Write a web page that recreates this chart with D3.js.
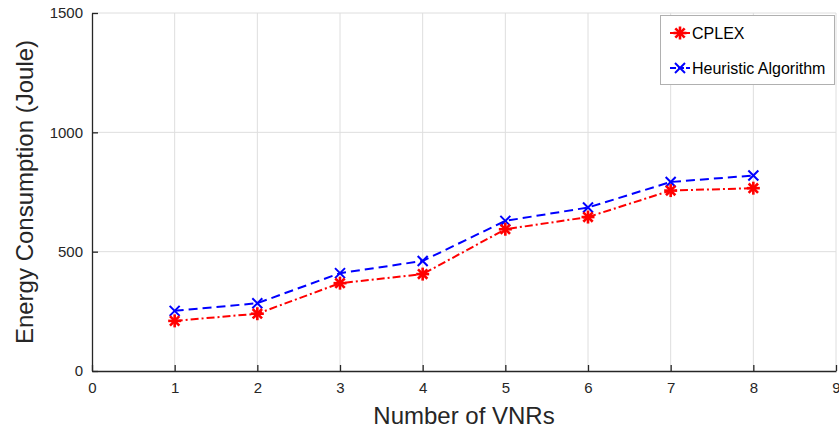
<!DOCTYPE html>
<html>
<head>
<meta charset="utf-8">
<script src="https://cdn.jsdelivr.net/npm/d3@7"></script>
<style>
  body { margin: 0; background: #fff; }
  text { font-family: "Liberation Sans", Arial, sans-serif; }
</style>
</head>
<body>
<div id="chart"></div>
<script>
// data
const vnrs = [1, 2, 3, 4, 5, 6, 7, 8];
const cplex = [210, 240, 368, 406, 594, 645, 756, 766];
const heuristic = [252, 284, 410, 461, 629, 685, 792, 819];
const xTicks = [0, 1, 2, 3, 4, 5, 6, 7, 8, 9];
const yTicks = [0, 500, 1000, 1500];
const seriesNames = ['CPLEX', 'Heuristic Algorithm'];

let width = 839, height = 429;
let margin = {top: 13, left: 92, right: 3, bottom: 58};

let svg = d3.select('#chart')
  .append('svg')
  .attr('width', width)
  .attr('height', height);

let xScale = d3.scaleLinear()
  .domain([0, 9])
  .range([margin.left, width - margin.right]);

let yScale = d3.scaleLinear()
  .domain([0, 1500])
  .range([height - margin.bottom, margin.top]);

// grid
let grid = svg.append('g');
grid.selectAll('.gx').data(xTicks.slice(1)).enter()
  .append('line')
  .attr('x1', d => xScale(d)).attr('x2', d => xScale(d))
  .attr('y1', yScale(0)).attr('y2', yScale(1500))
  .attr('stroke', '#dedede').attr('stroke-width', 1);
grid.selectAll('.gy').data(yTicks.slice(1)).enter()
  .append('line')
  .attr('x1', xScale(0)).attr('x2', xScale(9))
  .attr('y1', d => yScale(d)).attr('y2', d => yScale(d))
  .attr('stroke', '#dedede').attr('stroke-width', 1);

// axes, ticks pointing inward
let xAxis = d3.axisBottom(xScale).tickValues(xTicks).tickFormat(d3.format('d'))
  .tickSizeInner(-6).tickSizeOuter(0).tickPadding(11);
let gx = svg.append('g')
  .attr('transform', 'translate(0,' + yScale(0) + ')')
  .call(xAxis);
let yAxis = d3.axisLeft(yScale).tickValues(yTicks).tickFormat(d3.format('d'))
  .tickSizeInner(-6).tickSizeOuter(0).tickPadding(9);
let gy = svg.append('g')
  .attr('transform', 'translate(' + xScale(0) + ',0)')
  .call(yAxis);
[gx, gy].forEach(g => {
  g.select('.domain').attr('stroke', '#262626').attr('stroke-width', 1.3);
  g.selectAll('.tick line').attr('stroke', '#262626').attr('stroke-width', 1.3);
  g.selectAll('.tick text')
    .attr('fill', '#262626')
    .style('font-size', '15px')
    .style('font-family', '"Liberation Sans", Arial, sans-serif');
});

// axis labels
svg.append('text')
  .attr('x', (xScale(0) + xScale(9)) / 2)
  .attr('y', 424)
  .attr('text-anchor', 'middle')
  .attr('fill', '#262626')
  .style('font-size', '24px')
  .text('Number of VNRs');
svg.append('text')
  .attr('transform', 'translate(33,' + ((yScale(0) + yScale(1500)) / 2) + ') rotate(-90)')
  .attr('text-anchor', 'middle')
  .attr('fill', '#262626')
  .style('font-size', '24px')
  .text('Energy Consumption (Joule)');

// markers
function asterisk(g, x, y, color) {
  let r = 6.5;
  let s = g.append('g').attr('transform', 'translate(' + x + ',' + y + ')')
    .attr('stroke', color).attr('stroke-width', 2.6);
  s.append('line').attr('x1', -r).attr('x2', r).attr('y1', 0).attr('y2', 0);
  s.append('line').attr('x1', 0).attr('x2', 0).attr('y1', -r).attr('y2', r);
  s.append('line').attr('x1', -r * 0.72).attr('x2', r * 0.72).attr('y1', -r * 0.72).attr('y2', r * 0.72);
  s.append('line').attr('x1', -r * 0.72).attr('x2', r * 0.72).attr('y1', r * 0.72).attr('y2', -r * 0.72);
}
function cross(g, x, y, color) {
  let r = 5;
  let s = g.append('g').attr('transform', 'translate(' + x + ',' + y + ')')
    .attr('stroke', color).attr('stroke-width', 2);
  s.append('line').attr('x1', -r).attr('x2', r).attr('y1', -r).attr('y2', r);
  s.append('line').attr('x1', -r).attr('x2', r).attr('y1', r).attr('y2', -r);
}

let line = d3.line()
  .x(d => xScale(d[0]))
  .y(d => yScale(d[1]));

let cplexPts = vnrs.map((v, i) => [v, cplex[i]]);
let heurPts = vnrs.map((v, i) => [v, heuristic[i]]);

svg.append('path')
  .attr('d', line(heurPts))
  .attr('fill', 'none')
  .attr('stroke', '#0000ff')
  .attr('stroke-width', 2)
  .attr('stroke-dasharray', '9,5');
svg.append('path')
  .attr('d', line(cplexPts))
  .attr('fill', 'none')
  .attr('stroke', '#ff0000')
  .attr('stroke-width', 2)
  .attr('stroke-dasharray', '8,3,2,3');

let marks = svg.append('g');
heurPts.forEach(p => cross(marks, xScale(p[0]), yScale(p[1]), '#0000ff'));
cplexPts.forEach(p => asterisk(marks, xScale(p[0]), yScale(p[1]), '#ff0000'));

// legend
let legend = svg.append('g');
legend.append('rect')
  .attr('x', 660.5).attr('y', 15.5)
  .attr('width', 174).attr('height', 69)
  .attr('fill', '#fff')
  .attr('stroke', '#b0b0b0').attr('stroke-width', 1);
let legY = [33, 68];
let legColors = ['#ff0000', '#0000ff'];
seriesNames.forEach((name, i) => {
  legend.append('line')
    .attr('x1', 670).attr('x2', 690)
    .attr('y1', legY[i]).attr('y2', legY[i])
    .attr('stroke', legColors[i]).attr('stroke-width', 2)
    .attr('stroke-dasharray', i === 0 ? null : '6,2');
  if (i === 0) asterisk(legend, 680, legY[i], legColors[i]);
  else cross(legend, 680, legY[i], legColors[i]);
  legend.append('text')
    .attr('x', 692).attr('y', legY[i] + 5.5)
    .attr('fill', '#000')
    .style('font-size', '16px')
    .text(name);
});
</script>
</body>
</html>
